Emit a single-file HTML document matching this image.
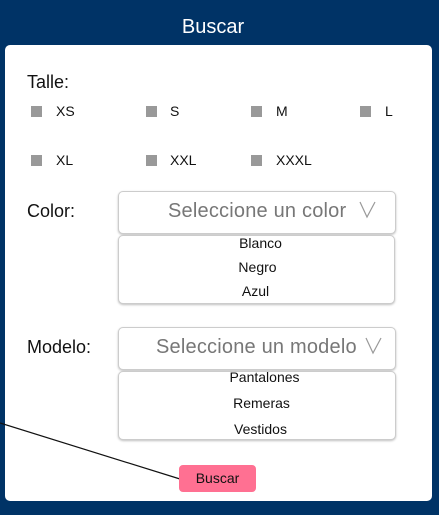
<!DOCTYPE html>
<html><head><style>
body{margin:0;width:439px;height:515px;background:#003366;position:relative;overflow:hidden;font-family:"Liberation Sans",sans-serif}
.a{position:absolute}
.p{left:5px;top:45px;width:427px;height:456px;background:#fff;border-radius:5px}
.cb{width:11px;height:11px;background:#999}
.t{font-size:14px;color:#111}
.box{background:#fff;border:1px solid #ccc;border-radius:5px;box-shadow:0 1px 2px rgba(0,0,0,.25)}
.opt{font-size:14px;color:#111;text-align:center;width:100%}
</style></head><body>
<div class="a" style="left:0;top:16px;width:426px;text-align:center;color:#fff;font-size:20px">Buscar</div>
<div class="a p"></div>
<div class="a" style="left:27px;top:72px;font-size:18px;color:#111">Talle:</div>
<div class="a cb" style="left:31px;top:106px"></div><div class="a t" style="left:56px;top:103px">XS</div>
<div class="a cb" style="left:146px;top:106px"></div><div class="a t" style="left:170px;top:103px">S</div>
<div class="a cb" style="left:251px;top:106px"></div><div class="a t" style="left:276px;top:103px">M</div>
<div class="a cb" style="left:360px;top:106px"></div><div class="a t" style="left:385px;top:103px">L</div>
<div class="a cb" style="left:31px;top:155px"></div><div class="a t" style="left:56px;top:152px">XL</div>
<div class="a cb" style="left:146px;top:155px"></div><div class="a t" style="left:170px;top:152px">XXL</div>
<div class="a cb" style="left:251px;top:155px"></div><div class="a t" style="left:276px;top:152px">XXXL</div>

<div class="a" style="left:27px;top:201px;font-size:18px;color:#111">Color:</div>
<div class="a box" style="left:118px;top:191px;width:276px;height:41px"></div>
<div class="a" style="left:168px;top:200px;font-size:20px;color:#777;letter-spacing:0.2px">Seleccione un color</div>
<div class="a box" style="left:118px;top:235px;width:275px;height:67px"></div>
<div class="a opt" style="left:123px;top:235px;width:275px">Blanco</div>
<div class="a opt" style="left:120px;top:259px;width:275px">Negro</div>
<div class="a opt" style="left:118px;top:283px;width:275px">Azul</div>

<div class="a" style="left:27px;top:337px;font-size:18px;color:#111">Modelo:</div>
<div class="a box" style="left:118px;top:327px;width:276px;height:41px"></div>
<div class="a" style="left:156px;top:336px;font-size:20px;color:#777;letter-spacing:0.2px">Seleccione un modelo</div>
<div class="a box" style="left:118px;top:371px;width:276px;height:67px"></div>
<div class="a opt" style="left:127px;top:369px;width:275px">Pantalones</div>
<div class="a opt" style="left:124px;top:395px;width:275px">Remeras</div>
<div class="a opt" style="left:123px;top:421px;width:275px">Vestidos</div>

<svg class="a" style="left:0;top:0" width="439" height="515">
<line x1="0" y1="423" x2="180" y2="479" stroke="#111" stroke-width="1.2"/>
<polyline points="360,202 367,217 375,202" fill="none" stroke="#999" stroke-width="1.2"/>
<polyline points="366,338 373,353 381,338" fill="none" stroke="#999" stroke-width="1.2"/>
</svg>
<div class="a" style="left:179px;top:465px;width:77px;height:27px;background:#ff7092;border-radius:4px;text-align:center;line-height:27px;font-size:14px;color:#111">Buscar</div>
</body></html>
